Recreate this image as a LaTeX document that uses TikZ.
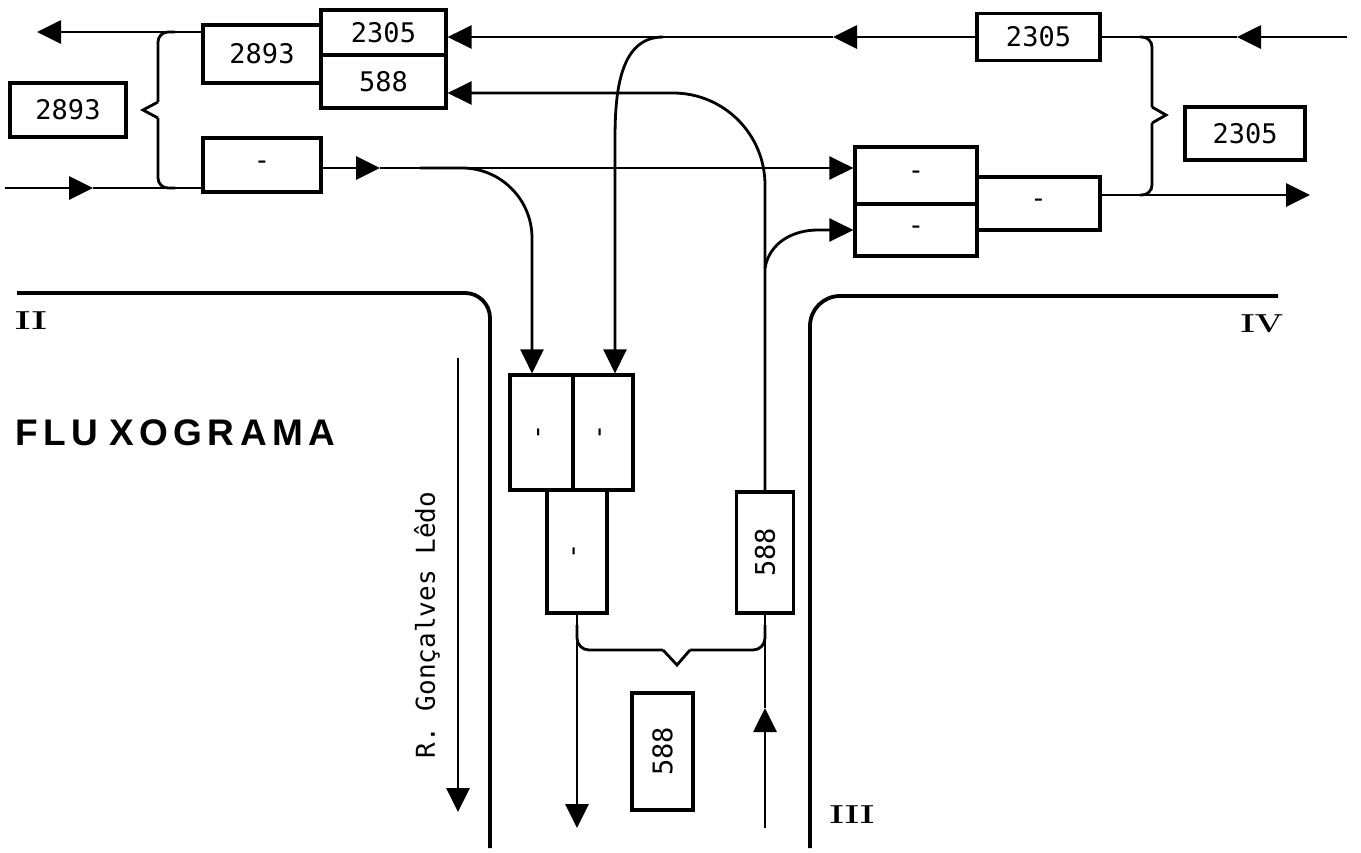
\documentclass[tikz,border=0pt]{standalone}
\usepackage{fontspec}
\usepackage{graphicx}
\usetikzlibrary{arrows.meta}
\newfontfamily\monofnt{DejaVu Sans Mono}
\newfontfamily\headfnt{Liberation Sans}
\newcommand\lsp{\hspace{5.5pt}}
\begin{document}
\begin{tikzpicture}[x=1pt,y=-1pt,
  box/.style={draw, line width=3.2pt, inner sep=0pt, font=\monofnt\fontsize{27}{27}\selectfont},
  conn/.style={line width=2.8pt},
  arr/.style={conn, -{Triangle[length=24pt,width=23pt]}},
  road/.style={line width=3.8pt},
  roman/.style={font=\rmfamily\bfseries\fontsize{26}{26}\selectfont, inner sep=0pt}]
\useasboundingbox (0,0) rectangle (1361,852);

% boxes
\node[box, minimum width=118pt, minimum height=58pt] (b2893u) at (262,54) {2893};
\node[box, minimum width=125pt, minimum height=45pt] (b2305t) at (383.5,32.5) {2305};
\node[box, minimum width=125pt, minimum height=53pt] (b588t) at (383.5,81.5) {588};
\node[box, minimum width=118pt, minimum height=54pt] (bdl) at (262,165) {-};
\node[box, minimum width=116pt, minimum height=54pt] (l2893) at (68,110) {2893};
\node[box, minimum width=123pt, minimum height=47pt] (bt2305) at (1038.5,37) {2305};
\node[box, minimum width=120pt, minimum height=53pt] (l2305) at (1245,133.5) {2305};
\node[box, minimum width=122pt, minimum height=57pt] (br1) at (916,175.5) {-};
\node[box, minimum width=122pt, minimum height=52pt] (br2) at (916,230) {-};
\node[box, minimum width=123pt, minimum height=53pt] (br3) at (1038.5,203.5) {-};
\node[box, minimum width=63pt, minimum height=115pt] (bv1) at (541.5,432.5) {\rotatebox{90}{-}};
\node[box, minimum width=60pt, minimum height=115pt] (bv2) at (603,432.5) {\rotatebox{90}{-}};
\node[box, minimum width=60pt, minimum height=123pt] (bv3) at (577,551.5) {\rotatebox{90}{-}};
\node[box, minimum width=57pt, minimum height=121pt] (bv588) at (765,552.5) {\rotatebox{90}{588}};
\node[box, minimum width=61pt, minimum height=117pt] (l588) at (662.5,751.5) {\rotatebox{90}{588}};

% free ends
\coordinate (tl) at (37,32);
\coordinate (bl) at (5,188);
\coordinate (blt) at (93,188);
\coordinate (mt) at (380,168);
\coordinate (bj1) at (420,168);
\coordinate (x532) at (532,0);
\coordinate (x615) at (615,0);
\coordinate (c615) at (615,140);
\coordinate (tr) at (1347,37);
\coordinate (trt) at (1237,37);
\coordinate (tmt) at (833,37);
\coordinate (tb) at (663,37);
\coordinate (y93) at (0,93);
\coordinate (bj2) at (765,268);
\coordinate (c818) at (818,230);
\coordinate (rr) at (1310,195);
\coordinate (dl) at (577,828);
\coordinate (ub) at (765,828);
\coordinate (ut) at (765,708);
\coordinate (gs) at (458,358);
\coordinate (ge) at (458,812);

% connectors
\draw[arr] (b2893u.west |- tl) -- (tl);
\draw[arr] (bl) -- (blt);
\draw[conn] (blt) -- (bdl.west |- blt);
\draw[arr] (bdl.east |- mt) -- (mt);
\draw[arr] (mt) -- (br1.west |- mt);
\draw[arr, rounded corners=70pt] (bj1) -| (bv1.north -| x532);
\draw[arr] (tr) -- (trt);
\draw[conn] (trt) -- (bt2305.east);
\draw[arr] (bt2305.west) -- (tmt);
\draw[arr] (tmt) -- (b2305t.east |- tmt);
\draw[arr] (tb) to[out=180,in=90] (c615) -- (bv2.north -| x615);
\draw[arr, rounded corners=92pt] (bv588.north) |- (b588t.east |- y93);
\draw[arr] (bj2) to[out=80,in=180] (c818) -- (br2.west);
\draw[arr] (br3.east |- rr) -- (rr);
\draw[arr] (bv3.south) -- (dl);
\draw[arr] (ub) -- (ut);
\draw[conn] (ut) -- (bv588.south);
\draw[arr] (gs) -- (ge);

% braces
\draw[conn, rounded corners=10pt] (175,32) -- (158,32) -- (158,102);
\draw[conn] (158,102) -- (143,110) -- (158,118);
\draw[conn, rounded corners=10pt] (158,118) -- (158,188) -- (175,188);
\draw[conn, rounded corners=10pt] (1140,37) -- (1152,37) -- (1152,107);
\draw[conn] (1152,107) -- (1166,115) -- (1152,123);
\draw[conn, rounded corners=10pt] (1152,123) -- (1152,195) -- (1140,195);
\draw[conn, rounded corners=12pt] (577,625) -- (577,650) -- (663,650);
\draw[conn] (663,650) -- (677,665) -- (690,650);
\draw[conn, rounded corners=12pt] (690,650) -- (765,650) -- (765,625);

% roads
\draw[road, rounded corners=25pt] (17,293) -| (490,848);
\draw[road, rounded corners=30pt] (1278,296) -| (810,848);

% texts
\node[font=\headfnt\bfseries\fontsize{37}{37}\selectfont, anchor=west, inner sep=0pt] (title) at (15,433)
  {F\lsp L\lsp U\lsp\lsp X\lsp O\lsp G\lsp R\lsp A\lsp M\lsp A};
\node[font=\monofnt\fontsize{26}{26}\selectfont, rotate=90] (rua) at (427,625) {R. Gonçalves Lêdo};
\node[roman, xscale=1.4] (rII) at (31,321) {II};
\node[roman, xscale=1.3] (rIV) at (1262,324) {IV};
\node[roman, xscale=1.3] (rIII) at (852,815) {III};
\end{tikzpicture}
\end{document}
